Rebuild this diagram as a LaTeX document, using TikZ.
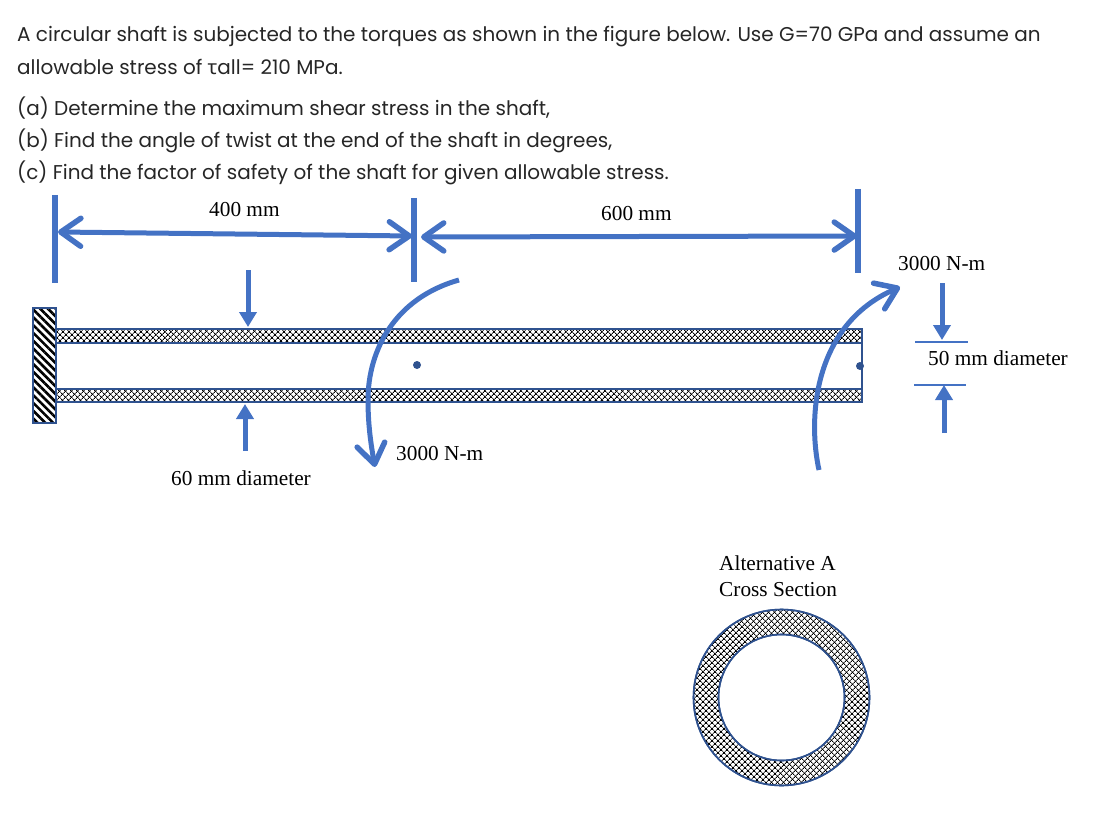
\documentclass[tikz,border=0pt]{standalone}
\usepackage{fontspec}
\setmainfont{Liberation Serif}
\newfontfamily\poppinsfont{Poppins}
\newfontfamily\taufont{Noto Sans}
\usetikzlibrary{arrows.meta,patterns.meta}
\definecolor{dimblue}{HTML}{4472C4}
\definecolor{edgeblue}{HTML}{2F528F}
\tikzset{
    question/.style={anchor=base west, inner sep=0pt, font=\poppinsfont\fontsize{19.97}{24}\selectfont, text=black!85},
    label/.style={anchor=base west, inner sep=0pt, font=\fontsize{21.3}{24}\selectfont},
    barb/.tip={Straight Barb[length=20pt,width=28pt,line width=5.5pt,round]},
    dimline/.style={dimblue, line width=5pt, {barb}-{barb}},
    tickline/.style={dimblue, line width=5.5pt},
    torque/.style={dimblue, line width=5pt, -{barb}},
    pointer/.style={dimblue, line width=5pt, -{Triangle[length=15pt,width=17pt]}},
    materiala/.style={pattern={Lines[angle=45,distance=4pt,line width=0.9pt]}},
    materialb/.style={pattern={Lines[angle=-45,distance=4pt,line width=0.9pt]}},
    wallhatch/.style={pattern={Lines[angle=-45,distance=5.5pt,line width=2.6pt]}},
    outline/.style={draw=edgeblue, line width=1.6pt}
}
\begin{document}
\begin{tikzpicture}[x=1pt,y=-1pt]
    \useasboundingbox (0,0) rectangle (1105,813);
    % question text
    \node[question] (line1) at (17,42) {A circular shaft is subjected to the torques as shown in the figure below. Use G=70 GPa and assume an};
    \node[question] (line2) at (17,75) {allowable stress of {\taufont τ}all= 210 MPa.};
    \node[question] (parta) at (17,116) {(a) Determine the maximum shear stress in the shaft,};
    \node[question] (partb) at (17,148) {(b) Find the angle of twist at the end of the shaft in degrees,};
    \node[question] (partc) at (17,179) {(c) Find the factor of safety of the shaft for given allowable stress.};

    % wall and shaft
    \draw[outline, wallhatch] (33,308) rectangle (56,423);
    \draw[outline, materiala] (56,329) rectangle (862,343);
    \draw[outline, materialb] (56,329) rectangle (862,343);
    \draw[outline, materiala] (56,389) rectangle (862,402);
    \draw[outline, materialb] (56,389) rectangle (862,402);
    \draw[outline] (862,329) -- (862,402);
    \fill[edgeblue] (417,365) circle (4);
    \fill[edgeblue] (860,366) circle (4);

    % dimension lines
    \coordinate (tickAtop) at (55,195);
    \coordinate (tickAbot) at (55,283);
    \coordinate (tickBtop) at (414,198);
    \coordinate (tickBbot) at (414,282);
    \coordinate (tickCtop) at (858,189);
    \coordinate (tickCbot) at (858,273);
    \draw[tickline] (tickAtop) -- (tickAbot);
    \draw[tickline] (tickBtop) -- (tickBbot);
    \draw[tickline] (tickCtop) -- (tickCbot);
    \coordinate (dimAleft) at (58,232);
    \coordinate (dimAright) at (412,236);
    \coordinate (dimBleft) at (421,237);
    \coordinate (dimBright) at (857,236);
    \draw[dimline] (dimAleft) -- (dimAright);
    \draw[dimline] (dimBleft) -- (dimBright);
    \node[label] (lenA) at (209,216) {400 mm};
    \node[label] (lenB) at (601,221) {600 mm};

    % torques
    \coordinate (torqueAstart) at (459,280);
    \coordinate (torqueAend) at (375,467);
    \coordinate (torqueBstart) at (819,470);
    \coordinate (torqueBend) at (900,287);
    \draw[torque] (torqueAstart) .. controls (395,298) and (368,350) .. (368,400) .. controls (368,425) and (371,445) .. (torqueAend);
    \draw[torque] (torqueBstart) .. controls (808,420) and (812,325) .. (torqueBend);
    \node[label] (torqueAlabel) at (396,460) {3000 N-m};
    \node[label] (torqueBlabel) at (898,270) {3000 N-m};

    % diameter pointers
    \coordinate (bigTop) at (248,270);
    \coordinate (bigTopTip) at (248,327);
    \coordinate (bigBot) at (245,451);
    \coordinate (bigBotTip) at (245,404);
    \draw[pointer] (bigTop) -- (bigTopTip);
    \draw[pointer] (bigBot) -- (bigBotTip);
    \node[label] (bigDia) at (171,485) {60 mm diameter};
    \coordinate (smallTop) at (942,283);
    \coordinate (smallTopTip) at (942,340);
    \coordinate (smallBot) at (944,433);
    \coordinate (smallBotTip) at (944,385);
    \draw[pointer] (smallTop) -- (smallTopTip);
    \draw[pointer] (smallBot) -- (smallBotTip);
    \coordinate (barTopL) at (915,342);
    \coordinate (barTopR) at (968,342);
    \coordinate (barBotL) at (914,385);
    \coordinate (barBotR) at (966,385);
    \draw[dimblue, line width=2.5pt] (barTopL) -- (barTopR);
    \draw[dimblue, line width=2.5pt] (barBotL) -- (barBotR);
    \node[label] (smallDia) at (928,365) {50 mm diameter};

    % cross section
    \node[label] (altA) at (719,570) {Alternative A};
    \node[label] (altB) at (719,596) {Cross Section};
    \draw[outline, materiala, even odd rule] (781.5,697.5) circle (88) (781.5,697.5) circle (63);
    \draw[outline, materialb, even odd rule] (781.5,697.5) circle (88) (781.5,697.5) circle (63);
\end{tikzpicture}
\end{document}
